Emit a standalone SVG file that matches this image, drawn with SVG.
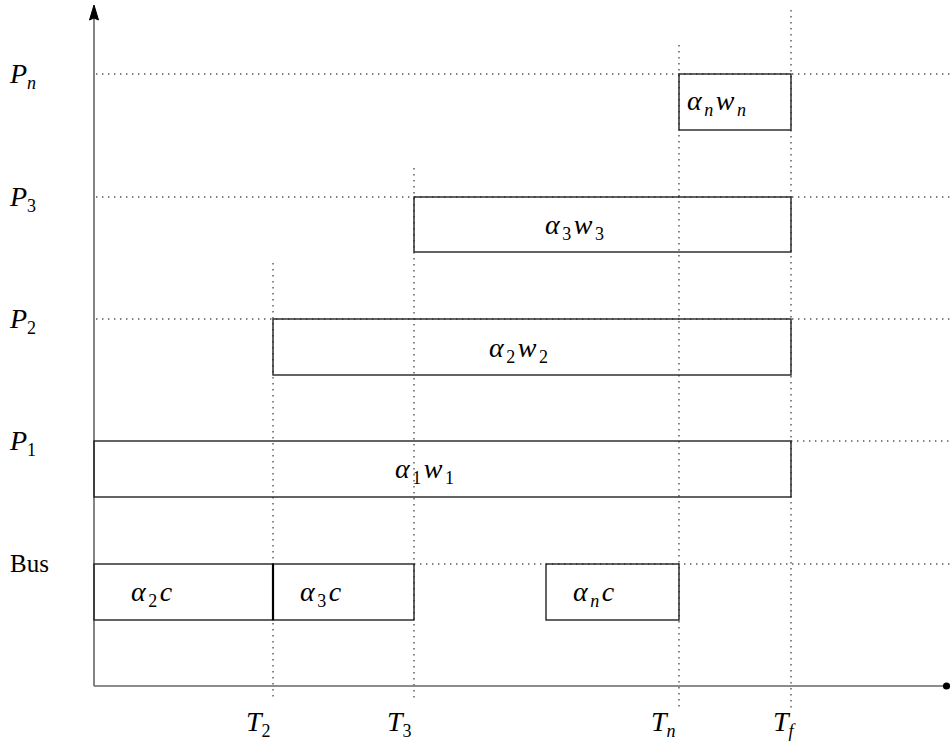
<svg xmlns="http://www.w3.org/2000/svg" width="951" height="743" viewBox="0 0 951 743">
<style>
.dot{stroke:#555;stroke-width:1.4;stroke-dasharray:1.4 4.6;fill:none}
.box{fill:none;stroke:#222;stroke-width:1.4}
.axis{stroke:#666;stroke-width:1.6;fill:none}
.m{font-family:"Liberation Serif","DejaVu Serif",serif;font-style:italic;font-size:28px;fill:#000}
.b{letter-spacing:2.5px}
.s{font-size:18px;font-style:normal}
.si{font-size:18px}
.r{font-family:"Liberation Serif",serif;font-size:25px;fill:#000}
</style>
<rect width="951" height="743" fill="#fff"/>
<g id="grid">
<line class="dot" x1="96" y1="74" x2="951" y2="74"/>
<line class="dot" x1="96" y1="197" x2="951" y2="197"/>
<line class="dot" x1="96" y1="319" x2="951" y2="319"/>
<line class="dot" x1="791" y1="441" x2="951" y2="441"/>
<line class="dot" x1="414" y1="564" x2="951" y2="564"/>
<line class="dot" x1="273" y1="263" x2="273" y2="697"/>
<line class="dot" x1="414" y1="168" x2="414" y2="700"/>
<line class="dot" x1="679" y1="45" x2="679" y2="708"/>
<line class="dot" x1="791" y1="10" x2="791" y2="712"/>
</g>
<g id="axes">
<line class="axis" x1="94" y1="686" x2="94" y2="18"/>
<path d="M94 5 L98.5 20 L94 18 L89.5 20 Z" fill="#000" stroke="#000" stroke-width="1"/>
<line class="axis" x1="94" y1="686" x2="945" y2="686"/>
<circle cx="946.5" cy="686" r="3.6" fill="#000"/>
</g>
<g id="node-pn"><rect class="box" x="679" y="74" width="112" height="56"/>
<text class="m b" x="687" y="110">α<tspan class="si" dy="6">n</tspan><tspan dy="-6">w</tspan><tspan class="si" dy="6">n</tspan></text></g>
<g id="node-p3"><rect class="box" x="414" y="197" width="377" height="55"/>
<text class="m b" x="545" y="234">α<tspan class="s" dy="6">3</tspan><tspan dy="-6">w</tspan><tspan class="s" dy="6">3</tspan></text></g>
<g id="node-p2"><rect class="box" x="273" y="319" width="518" height="56"/>
<text class="m b" x="489" y="357">α<tspan class="s" dy="6">2</tspan><tspan dy="-6">w</tspan><tspan class="s" dy="6">2</tspan></text></g>
<g id="node-p1"><rect class="box" x="94" y="441" width="697" height="56"/>
<text class="m b" x="395" y="478">α<tspan class="s" dy="6">1</tspan><tspan dy="-6">w</tspan><tspan class="s" dy="6">1</tspan></text></g>
<g id="node-bus2"><rect class="box" x="94" y="564" width="179" height="56"/>
<text class="m b" x="131" y="601">α<tspan class="s" dy="6">2</tspan><tspan dy="-6">c</tspan></text></g>
<g id="node-bus3"><rect class="box" x="273" y="564" width="141" height="56"/>
<line x1="273" y1="564" x2="273" y2="620" stroke="#000" stroke-width="2.2"/>
<text class="m b" x="300" y="601">α<tspan class="s" dy="6">3</tspan><tspan dy="-6">c</tspan></text></g>
<g id="node-busn"><rect class="box" x="546" y="564" width="133" height="56"/>
<text class="m b" x="573" y="601">α<tspan class="si" dy="6">n</tspan><tspan dy="-6">c</tspan></text></g>
<g id="labels">
<text class="m" x="10" y="83">P<tspan class="si" dy="6">n</tspan></text>
<text class="m" x="10" y="206">P<tspan class="s" dy="6">3</tspan></text>
<text class="m" x="10" y="328">P<tspan class="s" dy="6">2</tspan></text>
<text class="m" x="10" y="450">P<tspan class="s" dy="6">1</tspan></text>
<text class="r" x="10" y="572">Bus</text>
<text class="m" x="246" y="731">T<tspan class="s" dy="6">2</tspan></text>
<text class="m" x="387" y="731">T<tspan class="s" dy="6">3</tspan></text>
<text class="m" x="651" y="731">T<tspan class="si" dy="6">n</tspan></text>
<text class="m" x="773" y="731">T<tspan class="si" dy="6">f</tspan></text>
</g>
</svg>
